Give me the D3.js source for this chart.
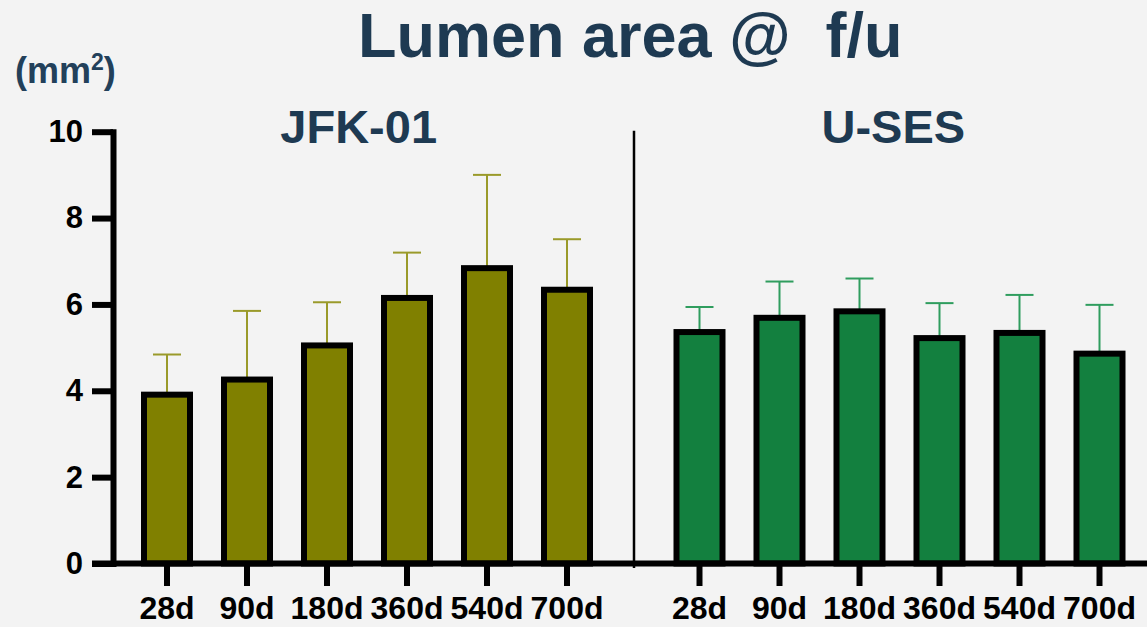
<!DOCTYPE html>
<html>
<head>
<meta charset="utf-8">
<script src="https://cdn.jsdelivr.net/npm/d3@7"></script>
<style>
  html, body { margin: 0; padding: 0; background: #f3f3f3; }
  svg { display: block; font-family: "Liberation Sans", Arial, sans-serif; font-weight: bold; }
</style>
</head>
<body>
<div id="main"></div>
<script>
const categories = ['28d', '90d', '180d', '360d', '540d', '700d'];
const groups = ['JFK-01', 'U-SES'];
const jfkMean = [3.91, 4.26, 5.05, 6.15, 6.84, 6.34];
const jfkSd = [0.93, 1.59, 1.0, 1.05, 2.16, 1.17];
const usesMean = [5.36, 5.69, 5.84, 5.22, 5.34, 4.86];
const usesSd = [0.58, 0.84, 0.76, 0.81, 0.88, 1.13];
const yTicks = [0, 2, 4, 6, 8, 10];

document.addEventListener('DOMContentLoaded', function () {

  const w = 1147;
  const h = 627;

  const svg = d3.select('#main').
  append('svg').
  attr('width', w).
  attr('height', h);

  svg.append('rect').
  attr('width', w).
  attr('height', h).
  attr('fill', '#f3f3f3');

  const yScale = d3.scaleLinear().
  domain([0, 10]).
  range([563.5, 131.7]);

  // two panels, same step, gap between them for the divider
  const xLeft = d3.scaleBand().
  domain(categories).
  range([127, 607]).
  paddingInner(0.425).
  paddingOuter(0.2125);

  const xRight = d3.scaleBand().
  domain(categories).
  range([659.5, 1139.5]).
  paddingInner(0.425).
  paddingOuter(0.2125);

  const panels = [
    { name: groups[0], x: xLeft, mean: jfkMean, sd: jfkSd, fill: '#808000', err: '#9a9a2a', labelX: 358.7 },
    { name: groups[1], x: xRight, mean: usesMean, sd: usesSd, fill: '#13803f', err: '#2f9d5e', labelX: 893.3 }
  ];

  // title
  svg.append('text').
  attr('x', 358).
  attr('y', 57).
  attr('font-size', '63px').
  attr('fill', '#1e3a52').
  style('white-space', 'pre').
  text('Lumen area @  f/u');

  const unit = svg.append('text').
  attr('x', 15).
  attr('y', 83).
  attr('font-size', '36px').
  attr('fill', '#22405a');
  unit.append('tspan').text('(mm');
  unit.append('tspan').
  attr('font-size', '23px').
  attr('dy', -13).
  text('2');
  unit.append('tspan').
  attr('dy', 13).
  text(')');

  panels.forEach(p => {
    const data = categories.map((c, i) => ({ cat: c, mean: p.mean[i], sd: p.sd[i] }));
    const cx = d => p.x(d.cat) + p.x.bandwidth() / 2;

    svg.append('text').
    attr('x', p.labelX).
    attr('y', 143).
    attr('text-anchor', 'middle').
    attr('font-size', '47px').
    attr('fill', '#1e3a52').
    text(p.name);

    const g = svg.append('g');

    // error bars behind the bars
    g.selectAll('.err').
    data(data).
    enter().
    append('line').
    attr('x1', cx).
    attr('x2', cx).
    attr('y1', d => yScale(d.mean)).
    attr('y2', d => yScale(d.mean + d.sd)).
    attr('stroke', p.err).
    attr('stroke-width', 2);

    g.selectAll('.cap').
    data(data).
    enter().
    append('line').
    attr('x1', d => cx(d) - 14).
    attr('x2', d => cx(d) + 14).
    attr('y1', d => yScale(d.mean + d.sd)).
    attr('y2', d => yScale(d.mean + d.sd)).
    attr('stroke', p.err).
    attr('stroke-width', 2);

    g.selectAll('.bar').
    data(data).
    enter().
    append('rect').
    attr('x', d => p.x(d.cat)).
    attr('y', d => yScale(d.mean)).
    attr('width', p.x.bandwidth()).
    attr('height', d => yScale(0) - yScale(d.mean)).
    attr('fill', p.fill).
    attr('stroke', 'black').
    attr('stroke-width', 6);

    const xAxis = d3.axisBottom(p.x).
    tickSize(22.5).
    tickPadding(10.5);

    const ax = svg.append('g').
    attr('transform', 'translate(0,' + yScale(0) + ')').
    call(xAxis);
    ax.select('.domain').remove();
    ax.selectAll('.tick line').
    attr('stroke', 'black').
    attr('stroke-width', 6);
    ax.selectAll('.tick text').
    attr('font-size', '32px').
    attr('font-family', '"Liberation Sans", Arial, sans-serif').
    attr('font-weight', 'bold').
    attr('fill', 'black');
  });

  // baseline across both panels
  svg.append('line').
  attr('x1', 92).
  attr('x2', w).
  attr('y1', yScale(0)).
  attr('y2', yScale(0)).
  attr('stroke', 'black').
  attr('stroke-width', 6);

  const yAxis = d3.axisLeft(yScale).
  tickValues(yTicks).
  tickSize(21).
  tickSizeOuter(0).
  tickPadding(9);

  const yg = svg.append('g').
  attr('transform', 'translate(113,0)').
  call(yAxis);
  yg.select('.domain').
  attr('stroke', 'black').
  attr('stroke-width', 6).
  attr('stroke-linecap', 'square');
  yg.selectAll('.tick line').
  attr('stroke', 'black').
  attr('stroke-width', 6);
  yg.selectAll('.tick text').
  attr('font-size', '31px').
  attr('font-family', '"Liberation Sans", Arial, sans-serif').
  attr('font-weight', 'bold').
  attr('fill', 'black');

  // divider between the two stents
  svg.append('line').
  attr('x1', 634).
  attr('x2', 634).
  attr('y1', 130.7).
  attr('y2', 568).
  attr('stroke', 'black').
  attr('stroke-width', 2.5);

});
</script>
</body>
</html>
